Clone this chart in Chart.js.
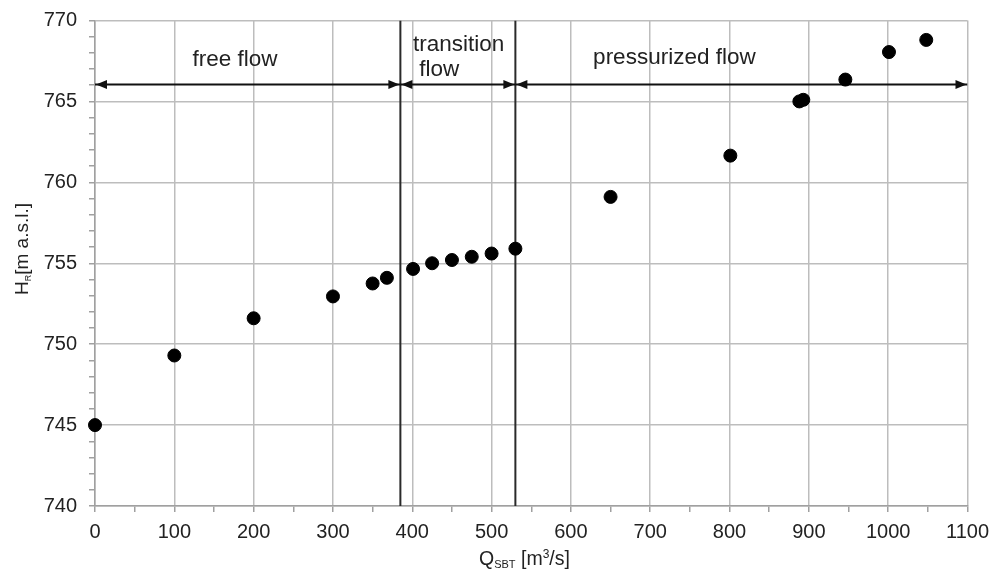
<!DOCTYPE html>
<html>
<head>
<meta charset="utf-8">
<script src="https://cdn.jsdelivr.net/npm/chart.js@4/dist/chart.umd.min.js"></script>
<style>
  html, body { margin: 0; padding: 0; background: #fff; }
  #wrap { width: 992px; height: 572px; }
</style>
</head>
<body>
<div id="wrap"><canvas id="myChart" width="992" height="572"></canvas></div>
<script>
// measured points: discharge Q (m3/s) and reservoir level H (m a.s.l.)
var qValues = [0, 100, 200, 300, 350, 368, 401, 425, 450, 475, 500, 530, 650, 801, 888, 893, 946, 1001, 1048];
var hValues = [745.0, 749.3, 751.6, 752.95, 753.75, 754.1, 754.65, 755.0, 755.2, 755.4, 755.6, 755.9, 759.1, 761.65, 765.0, 765.1, 766.35, 768.05, 768.8];

// regime boundaries and arrows
var boundaries = [385, 530];
var arrowLevel = 766.05;
var arrowSpans = [[0, 385], [385, 530], [530, 1100]];

// region labels [text, x (left edge), y]
var regionLabels = [
  ['free flow', 123, 767.6],
  ['transition', 401, 768.5],
  [' flow', 401, 766.95],
  ['pressurized flow', 628, 767.7]
];

var xMin = 0, xMax = 1100, xStep = 100;
var yMin = 740, yMax = 770, yStep = 5;

var fontFam = '"Liberation Sans", Arial, sans-serif';

var datasets = [];
datasets.push({
  label: 'H',
  data: qValues.map(function(q, i) { return { x: q, y: hValues[i] }; }),
  backgroundColor: '#000',
  borderColor: '#000',
  pointRadius: 6.5,
  pointHoverRadius: 6.5,
  showLine: false,
  clip: false,
  order: 0
});
for (var b = 0; b < boundaries.length; b++) {
  datasets.push({
    label: 'boundary' + b,
    data: [{ x: boundaries[b], y: yMin }, { x: boundaries[b], y: yMax }],
    borderColor: '#2a2a2a',
    borderWidth: 2,
    pointRadius: 0,
    showLine: true,
    order: 2
  });
}
for (var a = 0; a < arrowSpans.length; a++) {
  datasets.push({
    label: 'arrow' + a,
    data: [{ x: arrowSpans[a][0], y: arrowLevel }, { x: arrowSpans[a][1], y: arrowLevel }],
    borderColor: '#111',
    borderWidth: 2,
    pointRadius: 0,
    showLine: true,
    order: 1
  });
}

function arrowHead(ctx, x, y, dir) {
  ctx.beginPath();
  ctx.moveTo(x, y);
  ctx.lineTo(x - dir * 11, y - 4.5);
  ctx.lineTo(x - dir * 11, y + 4.5);
  ctx.closePath();
  ctx.fill();
}

var extras = {
  id: 'extras',
  afterDatasetsDraw: function(chart) {
    var ctx = chart.ctx;
    var xs = chart.scales.x, ys = chart.scales.y;
    ctx.save();
    ctx.fillStyle = '#111';
    var py = ys.getPixelForValue(arrowLevel);
    for (var i = 0; i < arrowSpans.length; i++) {
      arrowHead(ctx, xs.getPixelForValue(arrowSpans[i][0]) + 1, py, -1);
      arrowHead(ctx, xs.getPixelForValue(arrowSpans[i][1]) - 1, py, 1);
    }
    ctx.fillStyle = '#222';
    ctx.font = '22.5px ' + fontFam;
    ctx.textBaseline = 'middle';
    ctx.textAlign = 'left';
    for (var j = 0; j < regionLabels.length; j++) {
      var lb = regionLabels[j];
      ctx.fillText(lb[0], xs.getPixelForValue(lb[1]), ys.getPixelForValue(lb[2]));
    }

    // x axis title with subscript
    var parts = [['Q', 19.5, 0], ['SBT', 11, 3], [' [m', 19.5, 0], ['3', 12, -7], ['/s]', 19.5, 0]];
    var tx = 479;
    var ty = 565;
    ctx.textBaseline = 'alphabetic';
    for (var k = 0; k < parts.length; k++) {
      ctx.font = parts[k][1] + 'px ' + fontFam;
      ctx.fillText(parts[k][0], tx, ty + parts[k][2]);
      tx += ctx.measureText(parts[k][0]).width;
    }

    // y axis title with subscript, rotated
    var yparts = [['H', 19, 0], ['R', 9, 3], ['[m a.s.l.]', 19, 0]];
    var w = 0;
    for (k = 0; k < yparts.length; k++) {
      ctx.font = yparts[k][1] + 'px ' + fontFam;
      w += ctx.measureText(yparts[k][0]).width;
    }
    ctx.translate(28, 249);
    ctx.rotate(-Math.PI / 2);
    tx = -w / 2;
    for (k = 0; k < yparts.length; k++) {
      ctx.font = yparts[k][1] + 'px ' + fontFam;
      ctx.fillText(yparts[k][0], tx, yparts[k][2]);
      tx += ctx.measureText(yparts[k][0]).width;
    }
    ctx.restore();
  }
};

var ctx = document.getElementById('myChart').getContext('2d');
var myChart = new Chart(ctx, {
  type: 'scatter',
  data: { datasets: datasets },
  options: {
    responsive: false,
    animation: false,
    events: [],
    layout: { padding: { top: 20.5, right: 0, left: 0, bottom: 0 } },
    plugins: { legend: { display: false }, tooltip: { enabled: false } },
    scales: {
      x: {
        type: 'linear',
        min: xMin,
        max: xMax,
        afterFit: function(scale) {
          scale.height = 66;
          scale.paddingLeft = 0;
          scale.paddingRight = 24.5;
        },
        ticks: {
          stepSize: xStep / 2,
          autoSkip: false,
          maxRotation: 0,
          padding: 8,
          color: '#222',
          font: { family: fontFam, size: 20 },
          callback: function(v) { return v % xStep === 0 ? v : ''; }
        },
        grid: {
          color: function(c) { return c.tick && c.tick.value % xStep === 0 ? '#bdbdbd' : 'rgba(0,0,0,0)'; },
          tickColor: '#a0a0a0',
          lineWidth: 1.5,
          tickLength: 6
        },
        border: { color: '#a0a0a0', width: 1.5 }
      },
      y: {
        type: 'linear',
        min: yMin,
        max: yMax,
        afterFit: function(scale) {
          scale.width = 95;
          scale.paddingTop = 0;
          scale.paddingBottom = 0;
        },
        ticks: {
          stepSize: 1,
          autoSkip: false,
          padding: 12,
          color: '#222',
          font: { family: fontFam, size: 20 },
          callback: function(v) { return v % yStep === 0 ? v : ''; }
        },
        grid: {
          color: function(c) { return c.tick && c.tick.value % yStep === 0 ? '#bdbdbd' : 'rgba(0,0,0,0)'; },
          tickColor: '#a0a0a0',
          lineWidth: 1.5,
          tickLength: 6
        },
        border: { color: '#a0a0a0', width: 1.5 }
      }
    }
  },
  plugins: [extras]
});
</script>
</body>
</html>
